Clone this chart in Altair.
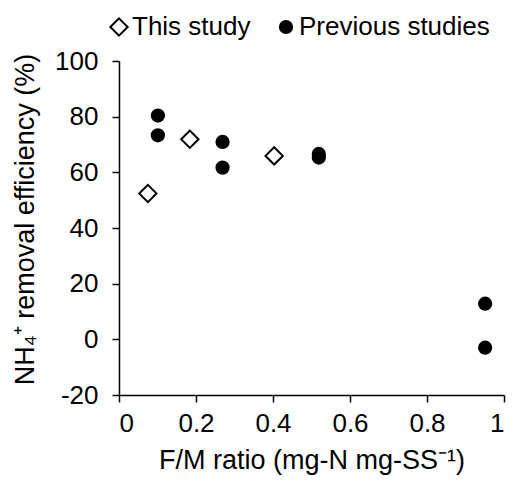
import altair as alt
import pandas as pd

series_names = ["This study", "Previous studies"]
this_x = [0.075, 0.184, 0.403]
this_y = [52.4, 71.9, 65.9]
prev_x = [0.101, 0.101, 0.269, 0.269, 0.519, 0.519, 0.951, 0.951]
prev_y = [80.4, 73.3, 70.9, 61.7, 66.6, 65.3, 12.8, -3.0]

df = pd.DataFrame({
    "x": this_x + prev_x,
    "y": this_y + prev_y,
    "series": [series_names[0]] * len(this_x) + [series_names[1]] * len(prev_x),
})

FONT = "Liberation Sans"

chart = alt.Chart(df).mark_point(filled=False, strokeWidth=2, opacity=1).encode(
    x=alt.X("x:Q", title="F/M ratio (mg-N mg-SS⁻¹)",
            scale=alt.Scale(domain=[0, 1], nice=False, zero=False),
            axis=alt.Axis(values=[0, 0.2, 0.4, 0.6, 0.8, 1], labelExpr="datum.value + ''",
                          grid=False, tickSize=7, labelPadding=8, titlePadding=11,
                          titleFontSize=27)),
    y=alt.Y("y:Q", title="NH₄⁺ removal efficiency (%)",
            scale=alt.Scale(domain=[-20, 100], nice=False, zero=False),
            axis=alt.Axis(values=[-20, 0, 20, 40, 60, 80, 100], labelExpr="datum.value + ''",
                          grid=False, tickSize=7, labelPadding=14, titleFontSize=27,
                          titleX=-94, titleY=158, titleBaseline="middle")),
    shape=alt.Shape("series:N", scale=alt.Scale(domain=series_names, range=["diamond", "circle"]),
                    legend=alt.Legend(title=None, orient="none", direction="horizontal",
                                      legendX=-13, legendY=-47, labelFontSize=26,
                                      labelFont=FONT, columnPadding=22, labelOffset=0,
                                      labelLimit=400, symbolStrokeWidth=2)),
    size=alt.Size("series:N", scale=alt.Scale(domain=series_names, range=[300, 150])),
    fill=alt.Fill("series:N", scale=alt.Scale(domain=series_names, range=["white", "black"])),
    stroke=alt.value("black"),
).properties(
    width=385, height=334,
    autosize=alt.AutoSizeParams(type="none"),
    padding={"left": 119, "top": 61, "right": 9, "bottom": 88},
).configure_view(stroke=None).configure_axis(
    domainColor="black", domainWidth=1.5, tickColor="black", tickWidth=1.5,
    labelColor="black", titleColor="black", labelFont=FONT, titleFont=FONT,
    labelFontSize=26, titleFontSize=26, titleFontWeight="normal",
)

chart.save("out.html", embed_options={"renderer": "svg", "actions": False})
